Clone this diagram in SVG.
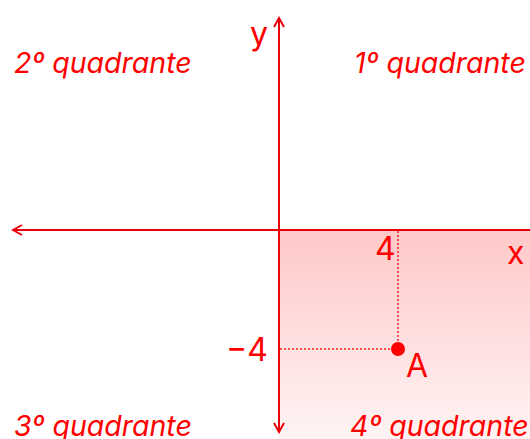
<svg xmlns="http://www.w3.org/2000/svg" width="530" height="439" viewBox="0 0 530 439">
<style>
.ax{stroke:#e8000b;stroke-width:2;fill:none}
.dot{stroke:#ff2020;stroke-width:1.5;stroke-dasharray:2 2;fill:none}
.q{font-family:Inter,"Noto Sans",sans-serif;font-style:italic;font-size:28.5px;fill:#ff0000}
.lb{font-family:Inter,"Noto Sans",sans-serif;font-size:32px;fill:#ff0000}
</style>
<defs>
<linearGradient id="g" x1="0" y1="0" x2="0" y2="1">
<stop offset="0" stop-color="#ffc8c8"/>
<stop offset="1" stop-color="#fff4f4"/>
</linearGradient>
<marker id="ar" viewBox="0 0 12 12" refX="10" refY="6" markerWidth="12" markerHeight="12" markerUnits="userSpaceOnUse" orient="auto">
<path d="M1,1 L10,6 L1,11" fill="none" stroke="#e8000b" stroke-width="2"/>
</marker>
</defs>
<rect id="region" x="279" y="230" width="251" height="209" fill="url(#g)"/>
<g id="connectors">
<line class="ax" x1="279" y1="430" x2="279" y2="18" marker-end="url(#ar)"/>
<line class="ax" x1="279" y1="430" x2="279" y2="432" marker-end="url(#ar)"/>
<line class="ax" x1="279" y1="230" x2="13" y2="230" marker-end="url(#ar)"/>
<line class="ax" x1="279" y1="230" x2="535" y2="230"/>
<line class="dot" x1="398" y1="231" x2="398" y2="349"/>
<line class="dot" x1="280" y1="349" x2="398" y2="349"/>
</g>
<g id="pointA">
<circle cx="398" cy="349" r="7" fill="#ff0000"/>
<text class="lb" x="406" y="377">A</text>
</g>
<g id="labels">
<text class="lb" x="250" y="45">y</text>
<text class="lb" x="507" y="264">x</text>
<text class="lb" x="375" y="260">4</text>
<text class="lb" x="226" y="361">−4</text>
</g>
<g id="q2"><text class="q" x="14" y="73">2º quadrante</text></g>
<g id="q1"><text class="q" x="354" y="73">1º quadrante</text></g>
<g id="q3"><text class="q" x="14" y="436">3º quadrante</text></g>
<g id="q4"><text class="q" x="350" y="436">4º quadrante</text></g>
</svg>
